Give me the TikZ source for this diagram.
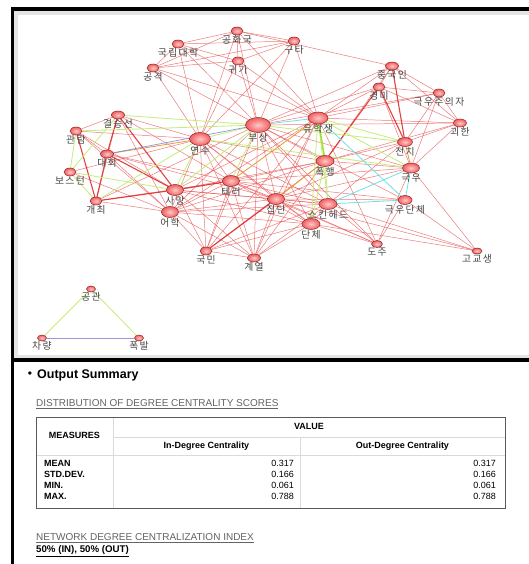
\documentclass[tikz,border=0pt]{standalone}
\usepackage{fontspec}
\setmainfont{Liberation Sans}
\newfontfamily\kr[LetterSpace=15]{Noto Sans CJK KR}
\usetikzlibrary{shapes.geometric, backgrounds}
\definecolor{edgered}{RGB}{232,80,80}
\definecolor{edgedark}{RGB}{222,34,34}
\definecolor{edgegreen}{RGB}{196,238,120}
\definecolor{edgelime}{RGB}{165,222,60}
\definecolor{edgecyan}{RGB}{110,226,232}
\definecolor{edgeorange}{RGB}{236,152,52}
\definecolor{edgeblue}{RGB}{125,125,228}
\definecolor{edgelilac}{RGB}{165,145,222}
\definecolor{nodein}{RGB}{255,200,200}
\definecolor{nodeout}{RGB}{240,95,95}
\definecolor{nodeline}{RGB}{150,35,35}
\definecolor{labgray}{RGB}{70,70,70}
\definecolor{panelgray}{RGB}{228,228,228}
\definecolor{headgray}{RGB}{100,100,100}
\definecolor{rulegray}{RGB}{90,90,90}
\definecolor{cellgray}{RGB}{218,218,218}

\begin{document}
\begin{tikzpicture}[x=1pt, y=-1pt,
    nd/.style = {ellipse, draw=nodeline, line width=0.5pt, inner color=nodein, outer color=nodeout, inner sep=0pt},
    ns/.style = {nd, minimum width=12pt, minimum height=8pt},
    nm/.style = {nd, minimum width=17pt, minimum height=11pt},
    nl/.style = {nd, minimum width=18pt, minimum height=11pt},
    lab/.style = {font=\kr\fontsize{9.8}{10}\selectfont, text=labgray, inner sep=0.3pt},
    redge/.style = {draw=edgered, line width=0.5pt, opacity=0.75},
    rthick/.style = {draw=edgedark, line width=1.1pt, opacity=0.85},
    gedge/.style = {draw=edgegreen, line width=0.8pt},
    gthick/.style = {draw=edgelime, line width=1.6pt},
    cedge/.style = {draw=edgecyan, line width=0.8pt},
    oedge/.style = {draw=edgeorange, line width=0.8pt},
    tb/.style = {font=\bfseries\fontsize{9}{10}\selectfont, inner sep=0pt, text height=6.6pt, text depth=1.9pt},
    tv/.style = {font=\fontsize{9}{10}\selectfont, inner sep=0pt, text height=6.6pt, text depth=1.9pt}]

    \useasboundingbox (0,0) rectangle (528,564);

    % frame
    \begin{pgfonlayer}{background}
        \fill[white] (0,0) rectangle (528,564);
        \fill[panelgray] (14,10.5) rectangle (532,358.5);
        \fill[white] (17.5,15) rectangle (532,355);
        \draw[line width=3.3pt] (532,9) -- (12.5,9) -- (12.5,568);
        \draw[line width=3.3pt] (12.5,360) -- (532,360);
    \end{pgfonlayer}

    % top group
    \node[ns, label={[lab]below:공화국}] (ghk) at (237,31) {};
    \node[ns, label={[lab]below:국립대학}] (grd) at (178,44) {};
    \node[ns, label={[lab]below:구타}] (gut) at (294,41) {};
    \node[ns, label={[lab]below:귀가}] (gwg) at (238,61) {};
    \node[ns, label={[lab]below:공격}] (gkj) at (153,68) {};

    % left group
    \node[ns, minimum width=13pt, label={[lab]below:결승선}] (gss) at (118,115) {};
    \node[ns, label={[lab]below:관람}] (gwr) at (76,131) {};
    \node[ns, minimum width=13pt, label={[lab]below:대회}] (dhe) at (107,154) {};
    \node[ns, label={[lab]below:보스턴}] (bst) at (70,172) {};
    \node[ns, label={[lab]below:개최}] (gch) at (96,201) {};

    % centre
    \node[nd, minimum width=21pt, minimum height=13pt, label={[lab]below:연수}] (yss) at (200,139) {};
    \node[nd, minimum width=25pt, minimum height=15pt, label={[lab]below:부상}] (bsg) at (258,125) {};
    \node[nd, minimum width=20pt, minimum height=12pt, label={[lab]below:유학생}] (yhs) at (318,118) {};
    \node[nm, label={[lab]below:사망}] (smg) at (175,190) {};
    \node[nm, label={[lab]below:어학}] (ehk) at (170,212) {};
    \node[nm, label={[lab]below:테러}] (trr) at (231,181) {};
    \node[nm, label={[lab]below:집단}] (jdn) at (276,199) {};
    \node[nl, label={[lab]below:폭행}] (phg) at (325,161) {};
    \node[nl, label={[lab]below:스킨헤드}] (skh) at (328,204) {};
    \node[nl, label={[lab]below:단체}] (dch) at (311,224) {};
    \node[ns, label={[lab]below:국민}] (kmn) at (206,251) {};
    \node[ns, minimum width=13pt, label={[lab]below:계열}] (gyr) at (254,258) {};

    % right group
    \node[ns, minimum width=13pt, label={[lab]below:중국인}] (jgi) at (392,66) {};
    \node[ns, label={[lab]below:경미}] (gmi) at (379,87) {};
    \node[ns, label={[lab]below:극우주의자}] (gjj) at (439,93) {};
    \node[ns, minimum width=13pt, label={[lab]below:괴한}] (gwh) at (460,123) {};
    \node[nd, minimum width=15pt, minimum height=9pt, label={[lab]below:전치}] (jch) at (405,142) {};
    \node[nd, minimum width=17pt, minimum height=10pt, label={[lab]below:극우}] (guu) at (411,168) {};
    \node[nd, minimum width=14pt, minimum height=9pt, label={[lab]below:극우단체}] (gud) at (405,200) {};
    \node[nd, minimum width=11pt, minimum height=7pt, label={[lab]below:도주}] (djj) at (377,244) {};
    \node[nd, minimum width=10pt, minimum height=6pt, label={[lab]below:고교생}] (ggs) at (477,251) {};

    % triangle
    \node[nd, minimum width=9pt, minimum height=6pt, label={[lab]below:공관}] (gkw) at (91,289) {};
    \node[nd, minimum width=9pt, minimum height=6pt, label={[lab]below:차량}] (cry) at (42,338) {};
    \node[nd, minimum width=9pt, minimum height=6pt, label={[lab]below:폭발}] (pbl) at (139,338) {};

    % links
    \begin{pgfonlayer}{background}
        \foreach \a/\b in {ghk/grd, ghk/gut, ghk/gwg, ghk/gkj, ghk/yss, ghk/bsg, ghk/yhs, ghk/jgi,
            grd/gut, grd/gkj, grd/yss, grd/bsg, grd/yhs, grd/gwg,
            gut/gkj, gut/gwg, gut/bsg, gut/yhs, gut/yss,
            gwg/gkj, gwg/yss, gwg/bsg, gwg/yhs, gkj/yss, gkj/bsg, gkj/yhs,
            jgi/gmi, jgi/gjj, jgi/gwh, jgi/bsg, jgi/yhs, jgi/phg,
            gmi/gjj, gmi/gwh, gmi/bsg, gmi/yhs, gmi/guu,
            gjj/gwh, gjj/jch, gjj/guu, gjj/yhs, gjj/bsg,
            gwh/jch, gwh/guu, gwh/bsg, gwh/yhs, gwh/phg,
            jch/phg, jch/skh, jch/jdn,
            guu/djj, guu/ggs, guu/bsg, guu/jdn, guu/phg, guu/trr,
            gud/ggs, gud/djj, gud/jdn, gud/trr, gud/bsg,
            djj/jdn, djj/skh, djj/dch, djj/yhs, djj/bsg, djj/trr,
            ggs/dch, ggs/skh, ggs/jdn,
            yss/ehk, yss/trr, yss/jdn, yss/kmn, yss/gyr, yss/gss, yss/gwr, yss/phg, yss/skh, yss/dch, yss/bst,
            bsg/ehk, bsg/jdn, bsg/phg, bsg/skh, bsg/dch, bsg/kmn, bsg/gyr, bsg/gch,
            yhs/jdn, yhs/smg, yhs/ehk, yhs/gyr, yhs/kmn,
            gss/gwr, gss/gch, gss/ehk, gss/trr, gwr/dhe, gwr/smg, gwr/ehk,
            dhe/ehk, dhe/trr, dhe/jdn, bst/ehk, gch/ehk, gch/trr,
            smg/jdn, smg/kmn, smg/gyr, smg/phg, smg/skh, smg/dch,
            ehk/trr, ehk/jdn, ehk/kmn, ehk/gyr, ehk/skh, ehk/dch, ehk/phg,
            trr/jdn, trr/kmn, trr/gyr, trr/phg, trr/skh, trr/dch,
            jdn/gyr, jdn/skh, jdn/dch, phg/gyr, phg/kmn,
            skh/dch, skh/kmn, skh/gyr, dch/kmn, dch/gyr, kmn/gyr}
            \draw[redge] (\a) -- (\b);
        \foreach \a/\b in {jgi/jch, gmi/jch, gmi/phg, gss/dhe, dhe/gch, gwr/gch, dhe/smg,
            gss/smg, gch/smg, smg/trr, jdn/kmn}
            \draw[rthick] (\a) -- (\b);
        \foreach \a/\b in {gss/bsg, gwr/bsg, gwr/bst, gss/bst, bst/gch, bst/smg, gch/yss,
            yss/smg, bsg/smg, bsg/trr, bsg/yss, yhs/skh, yhs/dch, phg/dch, phg/skh,
            bsg/jch, yss/guu, yhs/jch, yhs/guu}
            \draw[gedge] (\a) -- (\b);
        \draw[gthick] (yhs) -- (phg);
        \foreach \a/\b in {bsg/yhs, yhs/gud, skh/guu, skh/gud, guu/gud}
            \draw[cedge] (\a) -- (\b);
        \foreach \a/\b in {dhe/yss, trr/yhs, jch/guu, jdn/phg}
            \draw[oedge] (\a) -- (\b);
        \draw[draw=edgeblue, line width=0.7pt, opacity=0.85] (dhe) -- (bsg);
        \draw[gedge] (gkw) -- (cry);
        \draw[gedge] (gkw) -- (pbl);
        \draw[draw=edgelilac, line width=0.8pt] (cry) -- (pbl);
    \end{pgfonlayer}

    % Output summary
    \node[font=\fontsize{12}{12}\selectfont, inner sep=0pt] (bul) at (30,375) {•};
    \node[font=\bfseries\fontsize{12.5}{13}\selectfont, anchor=west, inner sep=0pt] (osum) at (37,375) {Output Summary};
    \node[font=\fontsize{10}{11}\selectfont, text=headgray, anchor=west, inner sep=0pt] (dist) at (36,404)
        {\underline{DISTRIBUTION OF DEGREE CENTRALITY SCORES}};

    % table
    \draw[cellgray, line width=1pt] (113,417) -- (113,508);
    \draw[cellgray, line width=1pt] (300,437) -- (300,508);
    \draw[cellgray, line width=1pt] (113,437) -- (505,437);
    \draw[cellgray, line width=1pt] (36,455) -- (505,455);
    \draw[rulegray, line width=0.9pt] (36,417) rectangle (505,508);
    \node[tb] (tmeas) at (74.5,436) {MEASURES};
    \node[tb] (tval) at (309,427) {VALUE};
    \node[tb] (tin) at (206.5,446) {In-Degree Centrality};
    \node[tb] (tout) at (402.5,446) {Out-Degree Centrality};
    \foreach \m/\v [count=\i] in {MEAN/0.317, STD.DEV./0.166, MIN./0.061, MAX./0.788} {
        \node[tb, anchor=west] (m\i) at (44,{453.3+10.9*\i}) {\m};
        \node[tv, anchor=east] (vin\i) at (294,{453.3+10.9*\i}) {\v};
        \node[tv, anchor=east] (vout\i) at (496,{453.3+10.9*\i}) {\v};
    }

    \node[font=\fontsize{10}{11}\selectfont, text=headgray, anchor=west, inner sep=0pt] (ncent) at (36,538)
        {\underline{NETWORK DEGREE CENTRALIZATION INDEX}};
    \node[font=\bfseries\fontsize{9.7}{11}\selectfont, anchor=west, inner sep=0pt] (pct) at (36,551)
        {\underline{50\% (IN), 50\% (OUT)}};
\end{tikzpicture}
\end{document}
